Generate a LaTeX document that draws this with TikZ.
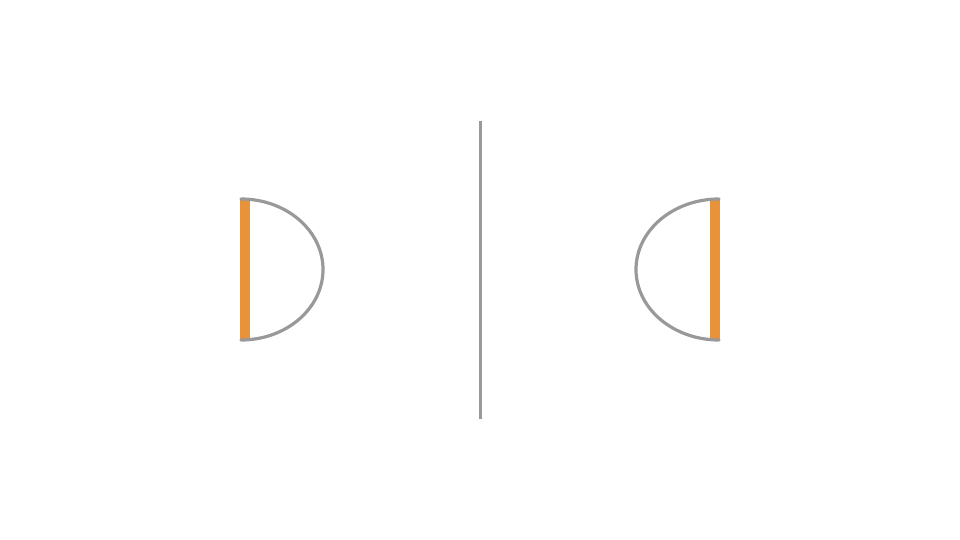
\documentclass[tikz,border=0pt]{standalone}
\definecolor{barorange}{HTML}{E8923A}
\definecolor{linegray}{HTML}{999999}
\tikzset{
  bar/.style={fill=barorange, draw=none},
  arcline/.style={draw=linegray, line width=3.2pt, line cap=round},
  divider/.style={draw=linegray, line width=3pt}
}
\begin{document}
\begin{tikzpicture}[x=1pt,y=1pt]
\useasboundingbox (0,0) rectangle (960,540);
% left shape
\fill[bar] (240,199) rectangle (250,341);
\draw[arcline] (241,341) arc[start angle=90, end angle=-90, x radius=82, y radius=70.5];
% divider
\coordinate (dtop) at (480,419);
\coordinate (dbot) at (480,121);
\draw[divider] (dtop) -- (dbot);
% right shape
\fill[bar] (710,199) rectangle (720,341);
\draw[arcline] (719,341) arc[start angle=90, end angle=270, x radius=83, y radius=70.5];
\end{tikzpicture}
\end{document}
